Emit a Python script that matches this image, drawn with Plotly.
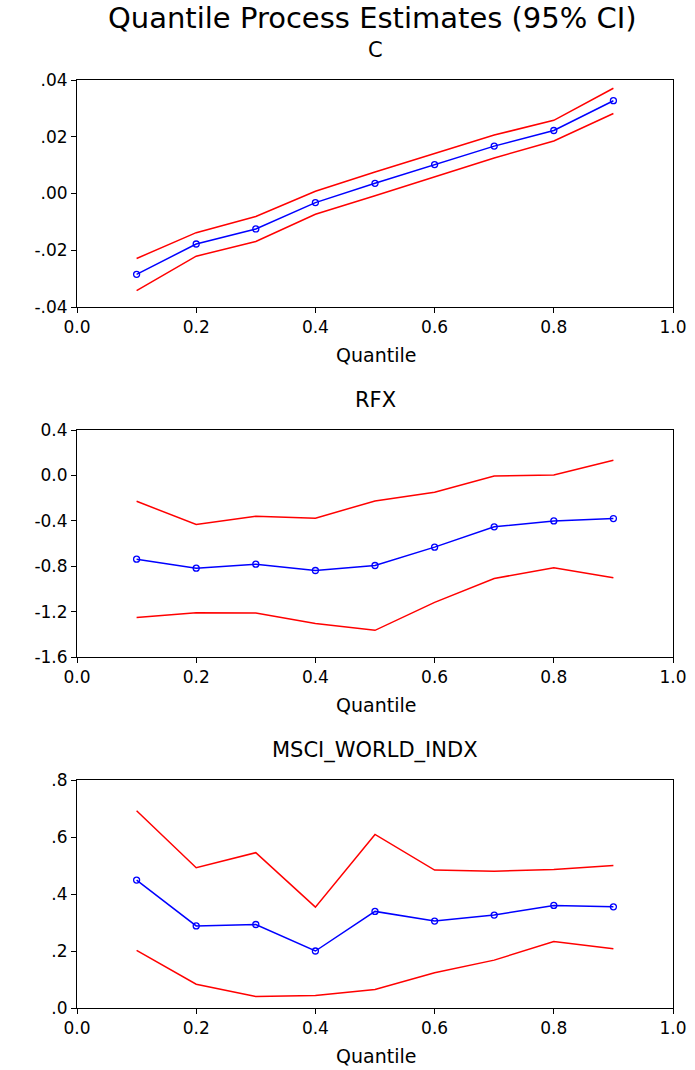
import plotly.graph_objects as go

quantiles = [0.1, 0.2, 0.3, 0.4, 0.5, 0.6, 0.7, 0.8, 0.9]

c_est = [-0.0285, -0.0178, -0.0125, -0.0032, 0.0036, 0.0102, 0.0167, 0.0222, 0.0327]
c_upper = [-0.0229, -0.0138, -0.0081, 0.0008, 0.0076, 0.0141, 0.0206, 0.0258, 0.0371]
c_lower = [-0.0342, -0.0221, -0.0169, -0.0073, -0.0008, 0.0059, 0.0125, 0.0185, 0.0282]

rfx_est = [-0.738, -0.817, -0.782, -0.838, -0.794, -0.632, -0.453, -0.401, -0.380]
rfx_upper = [-0.228, -0.433, -0.360, -0.377, -0.225, -0.148, -0.005, 0.004, 0.133]
rfx_lower = [-1.251, -1.210, -1.213, -1.304, -1.365, -1.119, -0.908, -0.814, -0.902]

msci_est = [0.449, 0.288, 0.293, 0.200, 0.339, 0.305, 0.326, 0.360, 0.355]
msci_upper = [0.692, 0.492, 0.545, 0.354, 0.609, 0.484, 0.480, 0.486, 0.500]
msci_lower = [0.202, 0.0835, 0.040, 0.0435, 0.0647, 0.1235, 0.168, 0.233, 0.208]

panel_titles = ["C", "RFX", "MSCI_WORLD_INDX"]
main_title = "Quantile Process Estimates (95% CI)"
x_label = "Quantile"

x_ticks = [0.0, 0.2, 0.4, 0.6, 0.8, 1.0]
x_ticktext = ["0.0", "0.2", "0.4", "0.6", "0.8", "1.0"]
c_ticks = [0.04, 0.02, 0.0, -0.02, -0.04]
c_ticktext = [".04", ".02", ".00", "-.02", "-.04"]
rfx_ticks = [0.4, 0.0, -0.4, -0.8, -1.2, -1.6]
rfx_ticktext = ["0.4", "0.0", "-0.4", "-0.8", "-1.2", "-1.6"]
msci_ticks = [0.8, 0.6, 0.4, 0.2, 0.0]
msci_ticktext = [".8", ".6", ".4", ".2", ".0"]

W, H = 695, 1070
FONT = "DejaVu Sans"

panels = [
    (c_est, c_upper, c_lower, c_ticks, c_ticktext, [-0.04, 0.04], (80, 307)),
    (rfx_est, rfx_upper, rfx_lower, rfx_ticks, rfx_ticktext, [-1.6, 0.4], (430, 657)),
    (msci_est, msci_upper, msci_lower, msci_ticks, msci_ticktext, [0.0, 0.8], (780, 1008)),
]

fig = go.Figure()
x_dom = [77 / W, 673 / W]
annotations = []

for i, (est, up, lo, tv, tt, rng, (top, bot)) in enumerate(panels):
    n = "" if i == 0 else str(i + 1)
    xa, ya = "x" + n, "y" + n
    for vals in (up, lo):
        fig.add_trace(go.Scatter(x=quantiles, y=vals, mode="lines",
                                 line=dict(color="#ff0000", width=1.5),
                                 xaxis=xa, yaxis=ya, showlegend=False))
    fig.add_trace(go.Scatter(x=quantiles, y=est, mode="lines+markers",
                             line=dict(color="#0000ff", width=1.5),
                             marker=dict(symbol="circle-open", size=6, color="#0000ff",
                                         line=dict(width=1.3)),
                             xaxis=xa, yaxis=ya, showlegend=False))
    common = dict(showline=True, linecolor="black", linewidth=1, mirror=True,
                  ticks="outside", ticklen=5, tickcolor="black", showgrid=False,
                  zeroline=False, automargin=False,
                  tickfont=dict(family=FONT, size=17, color="black"))
    fig.layout["xaxis" + n] = dict(domain=x_dom, range=[0, 1], tickvals=x_ticks,
                                   ticktext=x_ticktext, anchor=ya, **common)
    fig.layout["yaxis" + n] = dict(domain=[1 - bot / H, 1 - top / H], range=rng,
                                   tickvals=tv, ticktext=tt, anchor=xa, **common)
    annotations.append(dict(text=panel_titles[i], x=375 / W, y=1 - (top - 30) / H,
                            xref="paper", yref="paper", showarrow=False,
                            xanchor="center", yanchor="middle",
                            font=dict(family=FONT, size=21, color="black")))
    annotations.append(dict(text=x_label, x=376 / W, y=1 - (bot + 48) / H,
                            xref="paper", yref="paper", showarrow=False,
                            xanchor="center", yanchor="middle",
                            font=dict(family=FONT, size=19, color="black")))

annotations.append(dict(text=main_title, x=372 / W, y=1 - 18 / H, xref="paper",
                        yref="paper", showarrow=False, xanchor="center",
                        yanchor="middle", font=dict(family=FONT, size=29, color="black")))

fig.update_layout(width=W, height=H, margin=dict(l=0, r=0, t=0, b=0, autoexpand=False),
                  paper_bgcolor="white", plot_bgcolor="white",
                  annotations=annotations, showlegend=False)

fig.write_html("out.html")
